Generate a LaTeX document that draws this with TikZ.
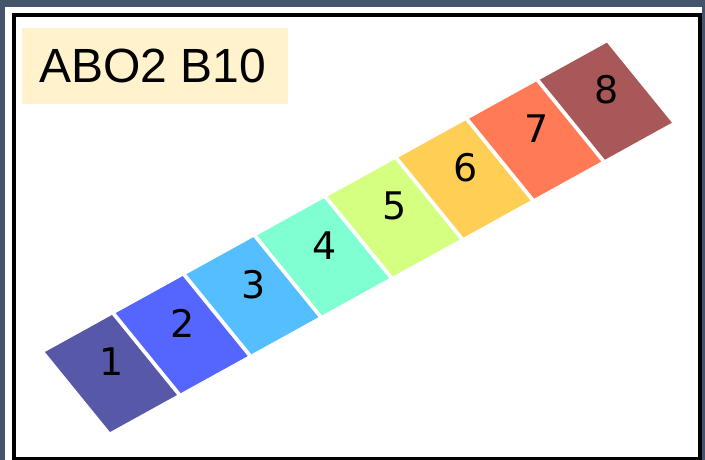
\documentclass[tikz,border=0pt]{standalone}
\usepackage{fontspec}
\setmainfont{Liberation Sans}
\newfontfamily\digitfont{DejaVu Sans}
\definecolor{bgdark}{RGB}{68,84,106}
\definecolor{labelbg}{RGB}{255,242,204}
\definecolor{cA}{RGB}{88,88,168}
\definecolor{cB}{RGB}{85,102,255}
\definecolor{cC}{RGB}{85,190,255}
\definecolor{cD}{RGB}{128,255,210}
\definecolor{cE}{RGB}{212,255,128}
\definecolor{cF}{RGB}{255,207,85}
\definecolor{cG}{RGB}{255,122,85}
\definecolor{cH}{RGB}{168,88,88}
\tikzset{
  tilelabel/.style={font=\digitfont\fontsize{38}{40}\selectfont, text=black, inner sep=0pt},
  titlebox/.style={fill=labelbg, inner sep=0pt, minimum width=266pt, minimum height=76pt, anchor=north west},
}
\begin{document}
\begin{tikzpicture}[x=1pt,y=-1pt]
\useasboundingbox (0,0) rectangle (705,460);
\fill[bgdark] (0,0) rectangle (705,460);
\fill[white] (5,7) rectangle (702,462);
\draw[black, line width=3.5pt] (14,15) rectangle (700,459);
\node[titlebox] (title) at (22,28) {};
\node[font=\fontsize{48}{50}\selectfont, anchor=west, inner sep=0pt] (titletext) at (39,66) {ABO2 B10};
\foreach \i/\c in {0/cA,1/cB,2/cC,3/cD,4/cE,5/cF,6/cG,7/cH}{
  \pgfmathsetmacro{\lx}{45+70.7*\i}
  \pgfmathsetmacro{\ly}{352-38.9*\i}
  \fill[\c] (\lx,\ly) -- ++(67,-37) -- ++(65,80) -- ++(-67,37) -- cycle;
  \pgfmathtruncatemacro{\n}{\i+1}
  \node[tilelabel] (lab\n) at (\lx+67,\ly+10) {\n};
}
\end{tikzpicture}
\end{document}
